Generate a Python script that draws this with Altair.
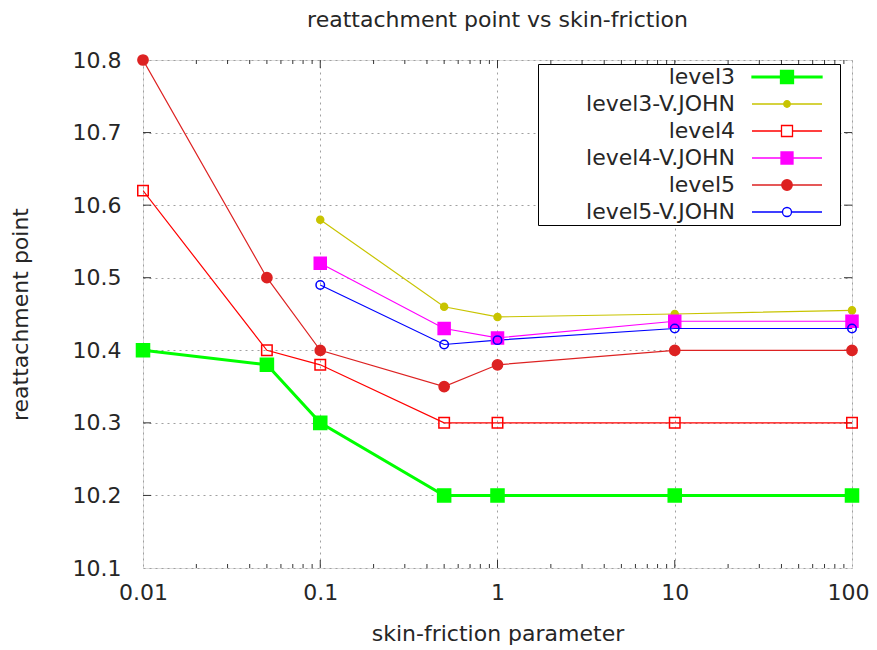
import altair as alt
import pandas as pd

# ---- data ----
series_names = ["level3", "level3-V.JOHN", "level4", "level4-V.JOHN", "level5", "level5-V.JOHN"]
x_full = [0.01, 0.05, 0.1, 0.5, 1, 10, 100]
x_john = [0.1, 0.5, 1, 10, 100]
level3 = [10.40, 10.38, 10.30, 10.20, 10.20, 10.20, 10.20]
level3_john = [10.58, 10.46, 10.446, 10.45, 10.455]
level4 = [10.62, 10.40, 10.38, 10.30, 10.30, 10.30, 10.30]
level4_john = [10.52, 10.43, 10.417, 10.44, 10.44]
level5 = [10.80, 10.50, 10.40, 10.35, 10.38, 10.40, 10.40]
level5_john = [10.49, 10.408, 10.414, 10.43, 10.43]

x_ticks = [0.01, 0.1, 1, 10, 100]
x_major_inner = [0.1, 1, 10]
x_minor = [0.02, 0.03, 0.04, 0.05, 0.06, 0.07, 0.08, 0.09,
           0.2, 0.3, 0.4, 0.5, 0.6, 0.7, 0.8, 0.9,
           2, 3, 4, 5, 6, 7, 8, 9,
           20, 30, 40, 50, 60, 70, 80, 90]
y_ticks = [10.1, 10.2, 10.3, 10.4, 10.5, 10.6, 10.7, 10.8]
y_major_inner = [10.2, 10.3, 10.4, 10.5, 10.6, 10.7]

stroke_colors = ["#00ff00", "#c8c400", "#ff0000", "#ff00ff", "#dd2222", "#0000ff"]
fill_colors = ["#00ff00", "#c8c400", "transparent", "#ff00ff", "#dd2222", "transparent"]
shapes = ["square", "circle", "square", "square", "circle", "circle"]
sizes = [170, 49, 110, 144, 105, 72]
stroke_widths = [3, 1.2, 1.2, 1.2, 1.2, 1.2]

# legend sample glyphs (line + marker, gnuplot style); unit = 5px at size 100
legend_shapes = [
    "M-7,-0.15H7V0.15H-7Z M-1.3,-1.3H1.3V1.3H-1.3Z M9.6,0",
    "M-7,0H7 M0.65,0A0.65,0.65 0 1,1 -0.65,0A0.65,0.65 0 1,1 0.65,0Z M9.6,0",
    "M-7,0H-1.1 M1.1,0H7 M-1.1,-1.1H1.1V1.1H-1.1Z M9.6,0",
    "M-7,0H7 M-1.2,-1.2H1.2V1.2H-1.2Z M9.6,0",
    "M-7,0H7 M1.05,0A1.05,1.05 0 1,1 -1.05,0A1.05,1.05 0 1,1 1.05,0Z M9.6,0",
    "M-7,0H-0.9 M0.9,0H7 M0.9,0A0.9,0.9 0 1,1 -0.9,0A0.9,0.9 0 1,1 0.9,0Z M9.6,0",
]

rows = []
for name, xs, ys in [
    ("level3", x_full, level3),
    ("level3-V.JOHN", x_john, level3_john),
    ("level4", x_full, level4),
    ("level4-V.JOHN", x_john, level4_john),
    ("level5", x_full, level5),
    ("level5-V.JOHN", x_john, level5_john),
]:
    for i, (xv, yv) in enumerate(zip(xs, ys)):
        rows.append({"series": name, "x": xv, "y": yv, "order": i})
df = pd.DataFrame(rows)

FONT = "DejaVu Sans"
TXT = "#262626"
FS = 22
W, H = 709, 508

xscale = alt.Scale(type="log", domain=[0.01, 100], nice=False)
yscale = alt.Scale(domain=[10.1, 10.8], nice=False, zero=False)

xaxis = alt.Axis(values=x_ticks, format="~g", ticks=False, domain=False,
                 grid=True, gridDash=[2, 4], gridColor="#a0a0a0", gridWidth=1,
                 labelFontSize=FS, labelFont=FONT, labelColor=TXT, labelPadding=14,
                 labelFlush=False,
                 labelOffset={"condition": {"test": "datum.value == 100", "value": -4}, "value": 0},
                 title="skin-friction parameter", titleFont=FONT, titleFontSize=FS,
                 titleFontWeight="normal", titleColor=TXT,
                 titleY=72, titleBaseline="alphabetic")
yaxis = alt.Axis(values=y_ticks, format=".1f", ticks=False, domain=False,
                 grid=True, gridDash=[2, 4], gridColor="#a0a0a0", gridWidth=1,
                 labelFontSize=FS, labelFont=FONT, labelColor=TXT, labelPadding=22,
                 title="reattachment point", titleFont=FONT, titleFontSize=FS,
                 titleFontWeight="normal", titleColor=TXT,
                 titleX=-123, titleY=H / 2, titleAngle=270, titleBaseline="middle")

base = alt.Chart(df)

color_scale = alt.Scale(domain=series_names, range=stroke_colors)
fill_scale = alt.Scale(domain=series_names, range=fill_colors)
shape_scale = alt.Scale(domain=series_names, range=shapes)
size_scale = alt.Scale(type="ordinal", domain=series_names, range=sizes)
sw_scale = alt.Scale(type="ordinal", domain=series_names, range=stroke_widths)

lines = base.mark_line(clip=True).encode(
    x=alt.X("x:Q", scale=xscale, axis=xaxis),
    y=alt.Y("y:Q", scale=yscale, axis=yaxis),
    stroke=alt.Stroke("series:N", scale=color_scale, legend=None),
    strokeWidth=alt.StrokeWidth("series:N", scale=sw_scale, legend=None),
    detail="series:N",
    order="order:Q",
)

points = base.mark_point(filled=False, opacity=1, strokeWidth=1.5).encode(
    x=alt.X("x:Q", scale=xscale),
    y=alt.Y("y:Q", scale=yscale),
    stroke=alt.Stroke("series:N", scale=color_scale, legend=None),
    fill=alt.Fill("series:N", scale=fill_scale, legend=None),
    shape=alt.Shape("series:N", scale=shape_scale, legend=None),
    size=alt.Size("series:N", scale=size_scale, legend=None),
)

legend = alt.Legend(title=None, orient="none", legendX=395, legendY=4,
                    labelFont=FONT, labelFontSize=FS, labelColor=TXT,
                    strokeColor="#000000", fillColor="white", padding=2,
                    rowPadding=5, symbolOffset=236, labelOffset={"expr": "-63"},
                    labelAlign="right",
                    symbolSize=100, symbolStrokeWidth=1.3, labelLimit=400)

legend_layer = base.transform_filter("false").mark_point(filled=False, size=100, opacity=1).encode(
    stroke=alt.Stroke("series:N", scale=alt.Scale(domain=series_names, range=stroke_colors), legend=legend),
    fill=alt.Fill("series:N", scale=alt.Scale(domain=series_names, range=fill_colors), legend=legend),
    shape=alt.Shape("series:N", scale=alt.Scale(domain=series_names, range=legend_shapes), legend=legend),
)

# inward tick marks, gnuplot style
minor_df = pd.DataFrame({"x": x_minor})
major_x_df = pd.DataFrame({"x": x_major_inner})
major_y_df = pd.DataFrame({"y": y_major_inner})
TICK = "#333333"

minor_bottom = alt.Chart(minor_df).mark_rule(color=TICK, strokeWidth=1).encode(
    x=alt.X("x:Q", scale=xscale), y=alt.value(H), y2=alt.value(H - 4))
minor_top = alt.Chart(minor_df).mark_rule(color=TICK, strokeWidth=1).encode(
    x=alt.X("x:Q", scale=xscale), y=alt.value(0), y2=alt.value(4))
major_bottom = alt.Chart(major_x_df).mark_rule(color=TICK, strokeWidth=1).encode(
    x=alt.X("x:Q", scale=xscale), y=alt.value(H), y2=alt.value(H - 8))
major_top = alt.Chart(major_x_df).mark_rule(color=TICK, strokeWidth=1).encode(
    x=alt.X("x:Q", scale=xscale), y=alt.value(0), y2=alt.value(8))
major_left = alt.Chart(major_y_df).mark_rule(color=TICK, strokeWidth=1).encode(
    y=alt.Y("y:Q", scale=yscale), x=alt.value(0), x2=alt.value(8))
major_right = alt.Chart(major_y_df).mark_rule(color=TICK, strokeWidth=1).encode(
    y=alt.Y("y:Q", scale=yscale), x=alt.value(W), x2=alt.value(W - 8))

chart = alt.layer(
    minor_bottom, minor_top, major_bottom, major_top, major_left, major_right,
    lines, points, legend_layer,
).resolve_scale(
    stroke="independent", fill="independent", shape="independent",
    size="independent", strokeWidth="independent",
).properties(
    width=W, height=H,
    title=alt.TitleParams("reattachment point vs skin-friction", font=FONT, fontSize=FS,
                          fontWeight="normal", color=TXT, offset=0, baseline="alphabetic",
                          anchor="middle"),
    autosize=alt.AutoSizeParams(type="none"),
    padding={"left": 135, "top": 52, "right": 17, "bottom": 78},
).configure_view(
    stroke="#000000", strokeWidth=1.2
).configure(background="white")

chart.save("out.html", embed_options={"renderer": "svg", "actions": False})
